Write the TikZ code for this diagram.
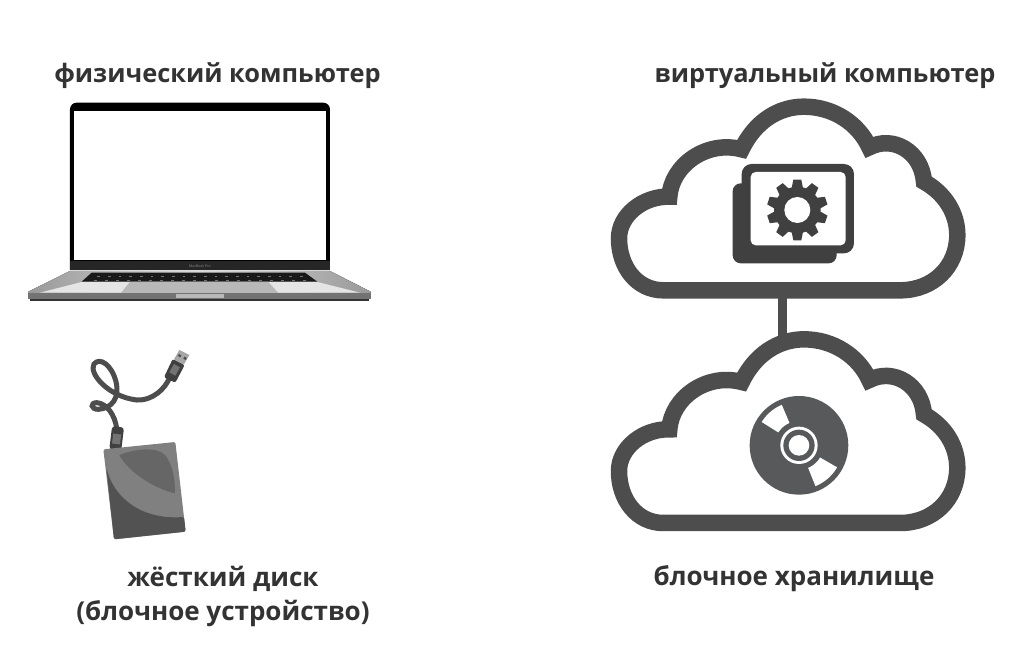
\documentclass[tikz,border=0pt]{standalone}
\usepackage{fontspec}
\setmainfont{Open Sans}[BoldFont={Open Sans Bold}]
\definecolor{cloudgray}{HTML}{4D4D4D}
\definecolor{darkgray2}{HTML}{404040}
\definecolor{diskgray}{HTML}{58595B}
\definecolor{textgray}{HTML}{333333}
\tikzset{
  lab/.style={font=\bfseries\fontsize{25.4}{34}\selectfont, text=textgray, align=center, inner sep=0pt},
  labwide/.style={lab, font=\bfseries\fontsize{26}{34}\selectfont},
  cloudline/.style={draw=cloudgray, line width=16.5pt, miter limit=10, line join=miter},
}
\newcommand{\cloudshape}{%
  \draw[cloudline] (190,601) .. controls (110,601) and (57,530) .. (57,445)
    .. controls (57,375) and (130,318) .. (208,320)
    .. controls (215,225) and (320,150) .. (425,178)
    .. controls (465,95) and (535,50) .. (612,50)
    .. controls (700,50) and (775,100) .. (808,172)
    .. controls (880,135) and (965,185) .. (972,275)
    .. controls (1035,310) and (1072,370) .. (1072,435)
    .. controls (1072,530) and (1000,601) .. (900,601)
    -- cycle;
}
\begin{document}
\begin{tikzpicture}[x=1pt,y=-1pt]
\useasboundingbox (0,0) rectangle (1024,654);
\fill[white] (0,0) rectangle (1024,654);

% labels
\node[lab] (t1) at (217.5,76) {физический компьютер};
\node[lab] (t2) at (825,76) {виртуальный компьютер};
\node[labwide] (t3) at (223,596) {жёсткий диск\\(блочное устройство)};
\node[labwide] (t4) at (794,579) {блочное хранилище};

% laptop (zoom coordinates)
\begin{scope}[shift={(20,90)},x=0.3333pt,y=-0.3333pt]
  \fill[black] (150,540) -- (150,58) to[out=90,in=180] (170,38) -- (910,38) to[out=0,in=90] (930,58) -- (930,540) -- cycle;
  \fill[white] (163,63) rectangle (917,510);
  \fill[black!85] (150,514) rectangle (930,540);
  \node[font=\fontsize{3.5}{4}\selectfont, text=black!45, inner sep=0pt] (mbp) at (540,530) {MacBook Pro};
  \fill[left color=black!40, right color=black!40, middle color=black!15] (150,543) -- (930,543) -- (1052,605) -- (1052,612) -- (25,612) -- (25,605) -- cycle;
  \fill[black!10] (185,576) -- (330,576) -- (303,608) -- (60,608) -- cycle;
  \fill[black!10] (892,576) -- (745,576) -- (775,608) -- (1020,608) -- cycle;
  \fill[black!90] (215,548) -- (855,548) -- (892,575) -- (185,575) -- cycle;
  \foreach \i in {0,...,19}{
    \fill[black!55] ({232+\i*32},559) rectangle ({240+\i*32},561);
    \fill[black!55] ({222+\i*33},570) rectangle ({230+\i*33},572);
  }
  \fill[black!28] (330,576) -- (745,576) -- (775,610) -- (303,610) -- cycle;
  \fill[black!55] (25,610) -- (1052,610) -- (1052,626) -- (25,626) -- cycle;
  \fill[black!28] (468,612) rectangle (612,623);
  \fill[black!80] (30,626) rectangle (1048,632);
\end{scope}

% hard disk (zoom coordinates)
\begin{scope}[shift={(70,340)},x=0.3333pt,y=-0.3333pt]
  % cable
  \draw[cloudgray, line width=5pt, line cap=round]
    (140,265) .. controls (135,225) and (110,190) .. (80,188)
    .. controls (60,188) and (62,208) .. (85,208)
    .. controls (125,205) and (150,175) .. (138,125)
    .. controls (125,75) and (90,50) .. (72,72)
    .. controls (55,100) and (115,170) .. (200,180)
    .. controls (250,182) and (285,145) .. (298,115);
  % disk side connector
  \fill[darkgray2, rotate around={-7:(140,295)}, rounded corners=3pt] (122,260) rectangle (158,330);
  \fill[black!55, rotate around={-7:(140,295)}] (128,282) rectangle (152,312);
  % usb plug
  \fill[black!35] (312,58) -- (328,30) -- (358,45) -- (342,73) -- cycle;
  \fill[black!70] (327,42) -- (334,46) -- (331,52) -- (324,48) -- cycle;
  \fill[black!70] (343,50) -- (350,54) -- (347,60) -- (340,56) -- cycle;
  \fill[darkgray2, rounded corners=2pt] (282,112) -- (308,57) -- (344,75) -- (316,128) -- cycle;
  \fill[black!55] (298,97) -- (312,72) -- (330,82) -- (316,107) -- cycle;
  % body
  \fill[black!50, rounded corners=1.5pt] (100,328) -- (316,306) -- (347,575) -- (132,598) -- cycle;
  \fill[black!68, rounded corners=1.5pt] (109,382) .. controls (130,470) and (210,540) .. (342,531) -- (347,575) -- (132,598) -- cycle;
  \fill[black!60] (148,345) .. controls (190,328) and (260,318) .. (285,345)
    .. controls (310,375) and (315,420) .. (315,460)
    .. controls (250,445) and (175,395) .. (148,345) -- cycle;
\end{scope}

% top cloud
\begin{scope}[shift={(600,90)},x=0.3333pt,y=-0.3333pt]
  \cloudshape
  \coordinate (linkA) at (547,601);
  % window stack
  \fill[darkgray2, rounded corners=8pt] (398,280) rectangle (710,520);
  \fill[darkgray2, rounded corners=10pt] (425,222) rectangle (762,490);
  \fill[white, rounded corners=5pt] (452,246) rectangle (737,466);
  % gear
  \foreach \a in {0,36,...,324}{
    \fill[darkgray2, shift={(592,360)}, rotate=\a] (-17,-66) -- (-12,-91) -- (12,-91) -- (17,-66) -- cycle;
  }
  \fill[darkgray2] (592,360) circle[radius=70*0.3333pt];
  \fill[white] (592,360) circle[radius=39*0.3333pt];
\end{scope}

% bottom cloud
\begin{scope}[shift={(600,322.67)},x=0.3333pt,y=-0.3333pt]
  \cloudshape
  \coordinate (linkB) at (547,50);
  % disc
  \fill[diskgray] (597,368) circle[radius=148*0.3333pt];
  \fill[white, shift={(597,368)}] plot[domain=-148:-113, samples=10] (\x:132) -- plot[domain=-113:-148, samples=10] (\x:73) -- cycle;
  \fill[white, shift={(597,368)}] plot[domain=30:68, samples=10] (\x:132) -- plot[domain=68:30, samples=10] (\x:73) -- cycle;
  \fill[white] (597,368) circle[radius=56*0.3333pt];
  \fill[diskgray] (597,368) circle[radius=47*0.3333pt];
  \fill[white] (597,368) circle[radius=31*0.3333pt];
\end{scope}

% link between clouds
\draw[cloudgray, line width=9.3pt] (linkA) -- (linkB);
\end{tikzpicture}
\end{document}
